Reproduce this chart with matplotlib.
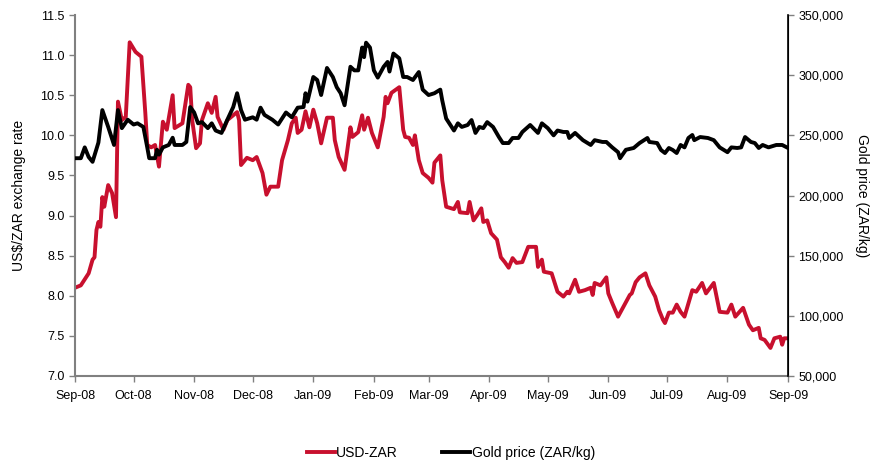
import pandas as pd
import matplotlib
matplotlib.use("Agg")
import matplotlib.pyplot as plt
import matplotlib.dates as mdates
from matplotlib.ticker import FuncFormatter, MultipleLocator

plt.rcParams['font.family'] = ['Liberation Sans', 'DejaVu Sans']

# USD-ZAR exchange rate (left axis)
zar_dates = [
    "2008-09-02", "2008-09-04", "2008-09-08", "2008-09-10", "2008-09-11", "2008-09-12",
    "2008-09-13", "2008-09-14", "2008-09-15", "2008-09-16", "2008-09-18", "2008-09-20",
    "2008-09-22", "2008-09-23", "2008-09-25", "2008-09-27", "2008-09-29", "2008-10-02",
    "2008-10-05", "2008-10-07", "2008-10-08", "2008-10-10", "2008-10-12", "2008-10-14",
    "2008-10-16", "2008-10-18", "2008-10-21", "2008-10-22", "2008-10-26", "2008-10-29",
    "2008-10-30", "2008-10-31", "2008-11-02", "2008-11-04", "2008-11-05", "2008-11-08",
    "2008-11-10", "2008-11-12", "2008-11-13", "2008-11-16", "2008-11-18", "2008-11-20",
    "2008-11-23", "2008-11-24", "2008-11-25", "2008-11-28", "2008-12-01", "2008-12-03",
    "2008-12-06", "2008-12-08", "2008-12-10", "2008-12-14", "2008-12-16", "2008-12-19",
    "2008-12-21", "2008-12-23", "2008-12-24", "2008-12-26", "2008-12-28", "2008-12-30",
    "2009-01-01", "2009-01-03", "2009-01-05", "2009-01-08", "2009-01-11", "2009-01-12",
    "2009-01-14", "2009-01-17", "2009-01-20", "2009-01-21", "2009-01-24", "2009-01-26",
    "2009-01-27", "2009-01-29", "2009-01-31", "2009-02-03", "2009-02-06", "2009-02-07",
    "2009-02-08", "2009-02-10", "2009-02-14", "2009-02-16", "2009-02-17", "2009-02-19",
    "2009-02-21", "2009-02-22", "2009-02-24", "2009-02-26", "2009-03-01", "2009-03-03",
    "2009-03-04", "2009-03-07", "2009-03-08", "2009-03-10", "2009-03-14", "2009-03-16",
    "2009-03-17", "2009-03-21", "2009-03-22", "2009-03-24", "2009-03-26", "2009-03-28",
    "2009-03-29", "2009-03-31", "2009-04-02", "2009-04-05", "2009-04-07", "2009-04-09",
    "2009-04-11", "2009-04-13", "2009-04-15", "2009-04-18", "2009-04-21", "2009-04-25",
    "2009-04-26", "2009-04-28", "2009-04-29", "2009-05-03", "2009-05-06", "2009-05-09",
    "2009-05-11", "2009-05-12", "2009-05-15", "2009-05-17", "2009-05-20", "2009-05-23",
    "2009-05-24", "2009-05-25", "2009-05-28", "2009-05-31", "2009-06-01", "2009-06-03",
    "2009-06-06", "2009-06-10", "2009-06-12", "2009-06-13", "2009-06-15", "2009-06-17",
    "2009-06-20", "2009-06-22", "2009-06-25", "2009-06-27", "2009-06-29", "2009-06-30",
    "2009-07-02", "2009-07-04", "2009-07-06", "2009-07-08", "2009-07-10", "2009-07-14",
    "2009-07-16", "2009-07-19", "2009-07-21", "2009-07-25", "2009-07-28", "2009-08-01",
    "2009-08-03", "2009-08-05", "2009-08-09", "2009-08-12", "2009-08-14", "2009-08-17",
    "2009-08-18", "2009-08-20", "2009-08-23", "2009-08-25", "2009-08-28", "2009-08-29",
    "2009-08-30", "2009-09-01",
]
zar_values = [
    8.11, 8.13, 8.28, 8.45, 8.48, 8.82,
    8.92, 8.86, 9.23, 9.11, 9.38, 9.28,
    8.98, 10.42, 10.19, 10.23, 11.16, 11.04,
    10.98, 10.28, 9.88, 9.85, 9.88, 9.61,
    10.17, 10.07, 10.50, 10.09, 10.15, 10.63,
    10.60, 10.19, 9.84, 9.90, 10.19, 10.40,
    10.28, 10.48, 10.23, 10.07, 10.19, 10.23,
    10.29, 10.19, 9.63, 9.72, 9.69, 9.73,
    9.53, 9.26, 9.36, 9.36, 9.69, 9.94,
    10.15, 10.22, 10.03, 10.07, 10.30, 10.10,
    10.32, 10.15, 9.90, 10.22, 10.22, 9.94,
    9.73, 9.57, 10.10, 9.98, 10.04, 10.25,
    10.07, 10.22, 10.03, 9.85, 10.23, 10.48,
    10.40, 10.53, 10.60, 10.07, 9.98, 9.97,
    9.88, 10.00, 9.69, 9.53, 9.47, 9.41,
    9.66, 9.75, 9.44, 9.11, 9.08, 9.17,
    9.04, 9.03, 9.17, 8.94, 9.01, 9.09,
    8.92, 8.94, 8.78, 8.70, 8.48, 8.42,
    8.35, 8.47, 8.41, 8.42, 8.61, 8.61,
    8.36, 8.45, 8.30, 8.28, 8.05, 7.99,
    8.05, 8.03, 8.20, 8.05, 8.07, 8.10,
    8.01, 8.16, 8.13, 8.23, 8.03, 7.91,
    7.74, 7.92, 8.01, 8.03, 8.17, 8.23,
    8.28, 8.13, 7.99, 7.82, 7.70, 7.66,
    7.79, 7.79, 7.89, 7.80, 7.74, 8.07,
    8.05, 8.16, 8.03, 8.16, 7.80, 7.79,
    7.89, 7.74, 7.85, 7.64, 7.57, 7.60,
    7.47, 7.45, 7.35, 7.47, 7.49, 7.39,
    7.47, 7.47,
]

# Gold price in ZAR/kg (right axis)
gold_dates = [
    "2008-09-02", "2008-09-04", "2008-09-06", "2008-09-08", "2008-09-10", "2008-09-13",
    "2008-09-15", "2008-09-18", "2008-09-21", "2008-09-23", "2008-09-25", "2008-09-28",
    "2008-10-01", "2008-10-03", "2008-10-06", "2008-10-08", "2008-10-09", "2008-10-12",
    "2008-10-13", "2008-10-14", "2008-10-16", "2008-10-19", "2008-10-21", "2008-10-22",
    "2008-10-26", "2008-10-28", "2008-10-30", "2008-11-01", "2008-11-03", "2008-11-05",
    "2008-11-08", "2008-11-10", "2008-11-12", "2008-11-15", "2008-11-18", "2008-11-21",
    "2008-11-23", "2008-11-25", "2008-11-27", "2008-12-01", "2008-12-03", "2008-12-05",
    "2008-12-07", "2008-12-11", "2008-12-14", "2008-12-18", "2008-12-21", "2008-12-24",
    "2008-12-27", "2008-12-28", "2008-12-29", "2009-01-01", "2009-01-03", "2009-01-05",
    "2009-01-08", "2009-01-11", "2009-01-13", "2009-01-15", "2009-01-17", "2009-01-20",
    "2009-01-22", "2009-01-24", "2009-01-26", "2009-01-27", "2009-01-28", "2009-01-30",
    "2009-02-01", "2009-02-03", "2009-02-06", "2009-02-08", "2009-02-09", "2009-02-11",
    "2009-02-14", "2009-02-16", "2009-02-18", "2009-02-21", "2009-02-24", "2009-02-26",
    "2009-03-01", "2009-03-04", "2009-03-07", "2009-03-08", "2009-03-10", "2009-03-14",
    "2009-03-16", "2009-03-18", "2009-03-21", "2009-03-23", "2009-03-25", "2009-03-27",
    "2009-03-29", "2009-03-31", "2009-04-03", "2009-04-06", "2009-04-08", "2009-04-11",
    "2009-04-13", "2009-04-16", "2009-04-18", "2009-04-22", "2009-04-26", "2009-04-28",
    "2009-05-01", "2009-05-04", "2009-05-06", "2009-05-09", "2009-05-11", "2009-05-12",
    "2009-05-15", "2009-05-19", "2009-05-23", "2009-05-25", "2009-05-29", "2009-05-31",
    "2009-06-03", "2009-06-06", "2009-06-07", "2009-06-10", "2009-06-14", "2009-06-17",
    "2009-06-21", "2009-06-22", "2009-06-26", "2009-06-28", "2009-06-30", "2009-07-02",
    "2009-07-04", "2009-07-06", "2009-07-08", "2009-07-10", "2009-07-12", "2009-07-14",
    "2009-07-15", "2009-07-18", "2009-07-22", "2009-07-25", "2009-07-28", "2009-08-01",
    "2009-08-03", "2009-08-06", "2009-08-08", "2009-08-10", "2009-08-13", "2009-08-15",
    "2009-08-17", "2009-08-19", "2009-08-22", "2009-08-26", "2009-08-29", "2009-09-01",
]
gold_values = [
    231000, 231000, 240000, 232000, 228000, 244000,
    271000, 257000, 242000, 271000, 256000, 263000,
    259000, 260000, 257000, 240000, 231000, 231000,
    238000, 234000, 240000, 242000, 248000, 242000,
    242000, 244500, 273500, 269000, 260000, 261000,
    256000, 260000, 254000, 252000, 263000, 273500,
    285000, 271000, 263000, 265000, 263000, 273000,
    267000, 263000, 259000, 269000, 265000, 273000,
    273500, 285000, 278000, 298500, 296000, 283500,
    306000, 298500, 290000, 285000, 275000, 307000,
    304000, 304000, 323000, 315000, 327000, 323000,
    304000, 298000, 307000, 311000, 303000, 318000,
    314000, 298500, 298500, 296000, 302600, 288000,
    283500, 285000, 288000, 279000, 264000, 254000,
    260000, 257000, 258600, 262700, 252000, 257000,
    256000, 261000, 257000, 248600, 243600, 243600,
    247800, 247800, 252800, 258600, 252000, 260000,
    256000, 250000, 254000, 252800, 252800, 247800,
    252000, 246000, 242000, 246000, 244500, 244500,
    240000, 236000, 231000, 238000, 239500, 243600,
    247800, 244500, 243600, 237800, 235300, 239500,
    237800, 235300, 242000, 240000, 247800, 250300,
    246000, 248600, 247800, 246000, 240000, 236000,
    240000, 239500, 240000, 248600, 244500, 243600,
    239500, 242000, 240000, 242000, 242000, 239500,
]

zar_x = pd.to_datetime(zar_dates)
gold_x = pd.to_datetime(gold_dates)

red = "#C8102E"
grey = "#808080"

fig = plt.figure(figsize=(8.8, 4.65), dpi=100)
ax1 = fig.add_axes([0.0852, 0.1914, 0.8103, 0.7763])
ax2 = ax1.twinx()

l1, = ax1.plot(zar_x, zar_values, color=red, lw=2.8, label="USD-ZAR", solid_joinstyle="round")
l2, = ax2.plot(gold_x, gold_values, color="black", lw=2.8, label="Gold price (ZAR/kg)",
               solid_joinstyle="round")

ax1.set_xlim(pd.Timestamp("2008-09-01"), pd.Timestamp("2009-09-01"))
ax1.set_ylim(7.0, 11.5)
ax2.set_ylim(50000, 350000)
ax1.yaxis.set_major_locator(MultipleLocator(0.5))
ax1.yaxis.set_major_formatter(FuncFormatter(lambda v, p: f"{v:.1f}"))
ax2.yaxis.set_major_locator(MultipleLocator(50000))
ax2.yaxis.set_major_formatter(FuncFormatter(lambda v, p: f"{v:,.0f}"))
ax1.xaxis.set_major_locator(mdates.MonthLocator())
ax1.xaxis.set_major_formatter(mdates.DateFormatter("%b-%y"))

for ax in (ax1, ax2):
    ax.spines["top"].set_visible(False)
ax1.spines["left"].set_color(grey)
ax1.spines["bottom"].set_color(grey)
ax1.spines["left"].set_linewidth(1.5)
ax1.spines["bottom"].set_linewidth(1.5)
ax2.spines["left"].set_visible(False)
ax2.spines["bottom"].set_visible(False)
ax2.spines["right"].set_color("black")
ax2.spines["right"].set_linewidth(1.2)

ax1.tick_params(axis="both", colors=grey, labelcolor="black", labelsize=9, length=4, width=1)
ax1.tick_params(axis="x", pad=6)
ax2.tick_params(axis="y", colors=grey, labelcolor="black", labelsize=9, length=4, width=1)

ax1.set_ylabel("US$/ZAR exchange rate", fontsize=10, labelpad=10)
ax2.set_ylabel("Gold price (ZAR/kg)", fontsize=10, rotation=270, labelpad=18)

fig.legend(handles=[l1, l2], loc="center", bbox_to_anchor=(0.5125, 0.026), ncol=2,
           frameon=False, fontsize=10, handlelength=2.0, handletextpad=0.1, columnspacing=3.2)

fig.savefig("out.png", dpi=100)
